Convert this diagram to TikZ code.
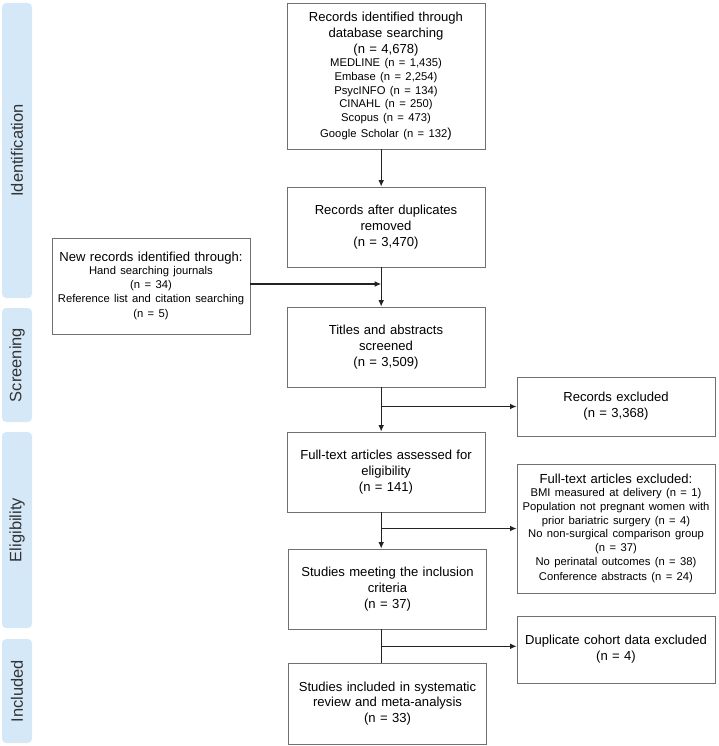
\documentclass[tikz,border=0pt]{standalone}
\usepackage{fontspec}
\setmainfont{Liberation Sans}
\usetikzlibrary{arrows.meta}

\definecolor{phase}{HTML}{D4E8F8}
\definecolor{phasetext}{HTML}{333333}
\definecolor{boxline}{HTML}{707070}
\definecolor{flowline}{HTML}{222222}

\newcommand{\bigtxt}{\fontsize{9.3}{11.3}\selectfont}
\newcommand{\smalltxt}{\fontsize{8}{9.7}\selectfont}

\begin{document}
\begin{tikzpicture}[
  phasebar/.style={fill=phase, rounded corners=3pt, rotate=90, minimum height=0.75cm,
    inner sep=0pt, text=phasetext, font=\fontsize{11.7}{14}\selectfont},
  record/.style={draw=boxline, line width=0.6pt, align=center, text width=4.75cm,
    inner sep=0.1cm, font=\bigtxt},
  flow/.style={draw=flowline, line width=0.8pt},
  arrow/.style={flow, -{Latex[length=4.6pt,width=4pt]}}
]

\useasboundingbox (0,0) rectangle (17.95,-18.65);

% Phase bars (left)
\node[phasebar, minimum width=7.375cm] (phident) at (0.425,-3.7625) {Identification};
\node[phasebar, minimum width=2.85cm] (phscreen) at (0.425,-9.125) {Screening};
\node[phasebar, minimum width=4.9cm] (phelig) at (0.425,-13.25) {Eligibility};
\node[phasebar, minimum width=2.6cm] (phincl) at (0.425,-17.275) {Included};

% Main column
\node[record, minimum height=3.65cm] (db) at (9.65,-1.9)
  {\bigtxt Records identified through\\ database searching\\ (n = 4,678)\\
   \smalltxt MEDLINE (n = 1,435)\\ Embase (n = 2,254)\\ PsycINFO (n = 134)\\
   CINAHL (n = 250)\\ Scopus (n = 473)\\ Google Scholar (n = 132{\bigtxt )}};
\node[record, minimum height=2cm] (dup) at (9.65,-5.675)
  {Records after duplicates\\ removed\\ (n = 3,470)};
\node[record, minimum height=2cm] (titles) at (9.65,-8.675)
  {Titles and abstracts\\ screened\\ (n = 3,509)};
\node[record, minimum height=2cm] (full) at (9.65,-11.8)
  {Full-text articles assessed for\\ eligibility\\ (n = 141)};
\node[record, minimum height=2cm] (meet) at (9.6875,-14.725)
  {Studies meeting the inclusion\\ criteria\\ (n = 37)};
\node[record, minimum height=2.025cm] (incl) at (9.6875,-17.5875)
  {Studies included in systematic\\ review and meta-analysis\\ (n = 33)};

% Side boxes
\node[record, minimum height=2.4cm] (new) at (3.775,-7.15)
  {\bigtxt New records identified through:\\
   \smalltxt Hand searching journals\\ (n = 34)\\
   Reference list and citation searching\\ (n = 5)};
\node[record, minimum height=1.475cm] (excl) at (15.4,-10.1625)
  {Records excluded\\ (n = 3,368)};
\node[record, minimum height=3.225cm] (ftexcl) at (15.4,-13.2125)
  {\bigtxt Full-text articles excluded:\\
   \smalltxt BMI measured at delivery (n = 1)\\
   Population not pregnant women with\\ prior bariatric surgery (n = 4)\\
   No non-surgical comparison group\\ (n = 37)\\
   No perinatal outcomes (n = 38)\\ Conference abstracts (n = 24)};
\node[record, minimum height=1.675cm] (dupl) at (15.4,-16.2375)
  {Duplicate cohort data excluded\\ (n = 4)};

% Connectors
\coordinate (spine) at (9.53,0);
\draw[arrow] (db.south -| spine) -- (dup.north -| spine);
\draw[arrow] (dup.south -| spine) -- (titles.north -| spine);
\draw[arrow] ([yshift=0.05cm]new.east) -- ([yshift=0.05cm]new.east -| spine);
\draw[arrow] (titles.south -| spine) -- (full.north -| spine);
\draw[arrow] (excl.west -| spine) -- (excl.west);
\draw[arrow] (full.south -| spine) -- (meet.north -| spine);
\draw[arrow] (ftexcl.west -| spine) -- (ftexcl.west);
\draw[flow] (meet.south -| spine) -- (incl.north -| spine);
\draw[arrow] ([yshift=0.08cm]dupl.west -| spine) -- ([yshift=0.08cm]dupl.west);

\end{tikzpicture}
\end{document}
